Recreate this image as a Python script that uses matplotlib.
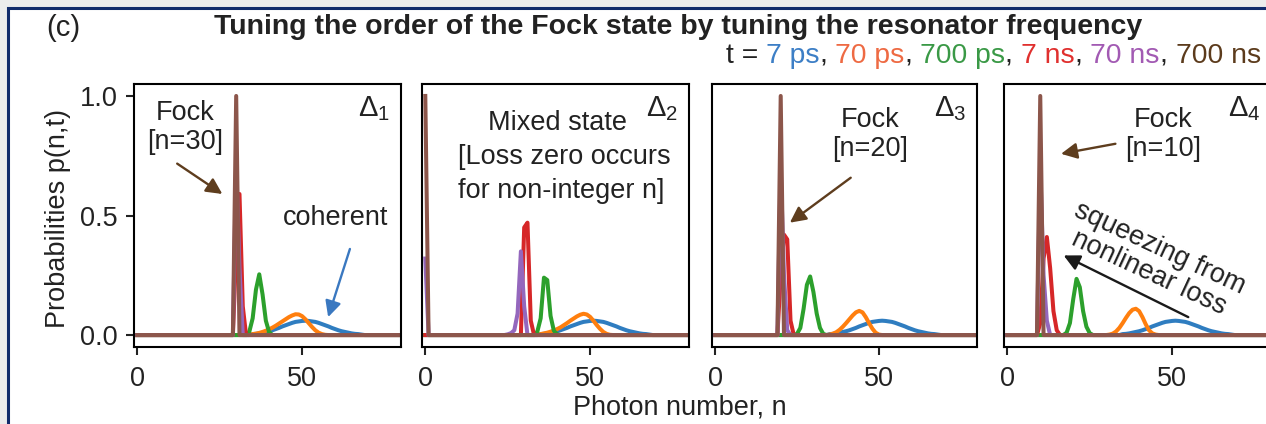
import numpy as np
import matplotlib
matplotlib.use("Agg")
import matplotlib.pyplot as plt
from matplotlib.patches import Rectangle

plt.rcParams['font.family'] = ['Liberation Sans', 'DejaVu Sans']
plt.rcParams['mathtext.fontset'] = 'custom'
plt.rcParams['mathtext.rm'] = 'Liberation Sans'
plt.rcParams['mathtext.it'] = 'Liberation Sans'

# ---------------- data: p(n, t) for each detuning, (first n, values) ----------------
times = ["7 ps", "70 ps", "700 ps", "7 ns", "70 ns", "700 ns"]
line_colors = ["#2f7dc0", "#ff7f0e", "#2ca02c", "#d62728", "#9467bd", "#8c564b"]
label_colors = ["#3d7fc6", "#ee6a43", "#3a9946", "#e0302e", "#a25ab3", "#5c3b1c"]

# initial coherent state (t = 7 ps), same in every panel
coherent_7ps = (35, [0.004, 0.005, 0.007, 0.010, 0.013, 0.016, 0.020, 0.025, 0.030,
                     0.036, 0.041, 0.046, 0.051, 0.055, 0.057, 0.059, 0.060, 0.059,
                     0.057, 0.055, 0.051, 0.046, 0.041, 0.036, 0.030, 0.025, 0.020,
                     0.016, 0.013, 0.010, 0.007, 0.005, 0.004, 0.002])

# Delta_1 : Fock n = 30
d1_70ps = (34, [0.002, 0.004, 0.006, 0.009, 0.013, 0.018, 0.024, 0.031, 0.039, 0.048,
                0.057, 0.066, 0.075, 0.082, 0.087, 0.086, 0.079, 0.066, 0.050, 0.034,
                0.020, 0.010, 0.004, 0.001])
d1_700ps = (33, [0.0, 0.015, 0.07, 0.19, 0.254, 0.17, 0.06, 0.012, 0.0])
d1_7ns = (29, [0.0, 0.35, 0.59, 0.12, 0.0])
d1_70ns = (29, [0.0, 0.72, 0.28, 0.0])
d1_700ns = (29, [0.0, 1.0, 0.0])

# Delta_2 : mixed state
d2_70ps = (34, [0.002, 0.004, 0.007, 0.010, 0.014, 0.019, 0.025, 0.032, 0.041, 0.050,
                0.060, 0.069, 0.078, 0.085, 0.089, 0.086, 0.076, 0.060, 0.042, 0.026,
                0.013, 0.005, 0.001])
d2_700ps = (33, [0.0, 0.015, 0.07, 0.24, 0.23, 0.08, 0.018, 0.003, 0.0])
d2_7ns = (29, [0.0, 0.45, 0.47, 0.06, 0.0])
d2_70ns = (0, [0.32] + [0.0] * 24 + [0.003, 0.008, 0.02, 0.09, 0.35, 0.12, 0.0])
d2_700ns = (0, [1.0, 0.0])

# Delta_3 : Fock n = 20
d3_70ps = (35, [0.002, 0.006, 0.012, 0.022, 0.035, 0.050, 0.066, 0.082, 0.095, 0.101,
                0.095, 0.075, 0.050, 0.027, 0.010, 0.002])
d3_700ps = (24, [0.0, 0.005, 0.03, 0.11, 0.21, 0.245, 0.18, 0.09, 0.03, 0.005, 0.0])
d3_7ns = (19, [0.0, 0.25, 0.42, 0.40, 0.06, 0.0])
d3_70ns = (19, [0.0, 0.7, 0.25, 0.02, 0.0])
d3_700ns = (19, [0.0, 1.0, 0.0])

# Delta_4 : Fock n = 10
d4_70ps = (31, [0.002, 0.006, 0.015, 0.030, 0.050, 0.072, 0.092, 0.106, 0.110, 0.100,
                0.075, 0.045, 0.020, 0.007, 0.002])
d4_700ps = (17, [0.0, 0.01, 0.05, 0.15, 0.235, 0.20, 0.10, 0.035, 0.008, 0.0])
d4_7ns = (9, [0.0, 0.05, 0.32, 0.41, 0.28, 0.10, 0.02, 0.0])
d4_70ns = (9, [0.0, 0.7, 0.25, 0.06, 0.0])
d4_700ns = (9, [0.0, 1.0, 0.0])

panels = [
    [coherent_7ps, d1_70ps, d1_700ps, d1_7ns, d1_70ns, d1_700ns],
    [coherent_7ps, d2_70ps, d2_700ps, d2_7ns, d2_70ns, d2_700ns],
    [coherent_7ps, d3_70ps, d3_700ps, d3_7ns, d3_70ns, d3_700ns],
    [coherent_7ps, d4_70ps, d4_700ps, d4_7ns, d4_70ns, d4_700ns],
]
n_max = 80
n = np.arange(0, n_max + 1)


def full(series):
    start, vals = series
    p = np.zeros_like(n, dtype=float)
    p[start:start + len(vals)] = vals
    return p


# ---------------- figure ----------------
W, H = 1266, 424
fig = plt.figure(figsize=(W / 100, H / 100), dpi=100)
fig.patch.set_facecolor("#ececec")
fig.add_artist(Rectangle((7.7 / W, -0.5), 2.0, 0.5 + (H - 7.7) / H,
                         transform=fig.transFigure, facecolor="white",
                         edgecolor="#112b6b", lw=2.2, zorder=-10))

txt = "#222222"
FS = 19.5
lefts = [134, 422, 712, 1004]
rights = [401, 689, 977, 1271]
top, bottom = 84, 347

axes = []
for i, (l, r) in enumerate(zip(lefts, rights)):
    ax = fig.add_axes([l / W, (H - bottom) / H, (r - l) / W, (bottom - top) / H])
    for series, c in zip(panels[i], line_colors):
        ax.plot(n, full(series), color=c, lw=2.9)
    ax.set_xlim(-1, 80)
    ax.set_ylim(-0.05, 1.05)
    ax.set_xticks([0, 50])
    for s in ax.spines.values():
        s.set_linewidth(1.5)
    ax.tick_params(axis="x", direction="out", length=6, width=1.5, pad=8,
                   labelsize=FS, colors=txt)
    if i == 0:
        ax.set_yticks([0, 0.5, 1.0])
        ax.tick_params(axis="y", direction="out", length=6, width=1.5, pad=6,
                       labelsize=FS, colors=txt)
    else:
        ax.set_yticks([])
    ax.text(0.96, 0.96, r"$\Delta_{%d}$" % (i + 1), transform=ax.transAxes,
            ha="right", va="top", fontsize=21, color=txt)
    axes.append(ax)

brown_arrow = "#5e3d1e"
blue_arrow = "#3a78c0"
arrow_kw = dict(arrowstyle="-|>", mutation_scale=24, lw=1.7, shrinkA=0, shrinkB=0)

a1, a2, a3, a4 = axes
a1.text(14.5, 0.87, "Fock\n[n=30]", ha="center", va="center", fontsize=FS,
        color=txt, linespacing=1.15)
a1.annotate("", xy=(25.8, 0.59), xytext=(12.1, 0.717),
            arrowprops=dict(color=brown_arrow, **arrow_kw))
a1.text(60, 0.49, "coherent", ha="center", va="center", fontsize=FS, color=txt)
a1.annotate("", xy=(57.9, 0.075), xytext=(64.5, 0.36),
            arrowprops=dict(color=blue_arrow, **arrow_kw))

# three-line note in the Delta_2 panel
for line, xc, yb in [("Mixed state", 40.0, 0.858),
                     ("[Loss zero occurs", 42.2, 0.717),
                     ("for non-integer n]", 41.2, 0.575)]:
    a2.text(xc, yb, line, ha="center", va="baseline", fontsize=FS, color=txt)

a3.text(47.2, 0.84, "Fock\n[n=20]", ha="center", va="center", fontsize=FS,
        color=txt, linespacing=1.15)
a3.annotate("", xy=(22.8, 0.47), xytext=(41.4, 0.658),
            arrowprops=dict(color=brown_arrow, **arrow_kw))

a4.text(47.4, 0.84, "Fock\n[n=10]", ha="center", va="center", fontsize=FS,
        color=txt, linespacing=1.15)
a4.annotate("", xy=(16.3, 0.758), xytext=(32.8, 0.80),
            arrowprops=dict(color=brown_arrow, **arrow_kw))
a4.text(44.6, 0.31, "squeezing from\nnonlinear loss", ha="center", va="center",
        rotation=-25, rotation_mode="anchor", fontsize=FS, color=txt,
        linespacing=1.05)
a4.annotate("", xy=(17.1, 0.333), xytext=(54.9, 0.075),
            arrowprops=dict(color="#1a1a1a", **arrow_kw))

# figure-level labels
fig.text(63 / W, 1 - 27.5 / H, "(c)", ha="center", va="center", fontsize=21, color=txt)
fig.text(678 / W, 1 - 34 / H,
         "Tuning the order of the Fock state by tuning the resonator frequency",
         ha="center", va="baseline", fontsize=20.5, fontweight="bold", color=txt)
fig.text(58 / W, 1 - 218 / H, "Probabilities p(n,t)", rotation=90, ha="center",
         va="center", fontsize=FS, color=txt)
fig.text(680 / W, 1 - 408 / H, "Photon number, n", ha="center", va="center",
         fontsize=FS, color=txt)

# colour-coded time legend
renderer = fig.canvas.get_renderer()
x = 726 / W
y = 1 - 63 / H
pieces = [("t = ", txt)]
for k, (t, c) in enumerate(zip(times, label_colors)):
    pieces.append((t, c))
    if k < len(times) - 1:
        pieces.append((", ", txt))
for s, c in pieces:
    t_obj = fig.text(x, y, s, ha="left", va="baseline", fontsize=20.4, color=c)
    bb = t_obj.get_window_extent(renderer)
    x += bb.width / W

fig.savefig("out.png", dpi=100, facecolor=fig.get_facecolor())
